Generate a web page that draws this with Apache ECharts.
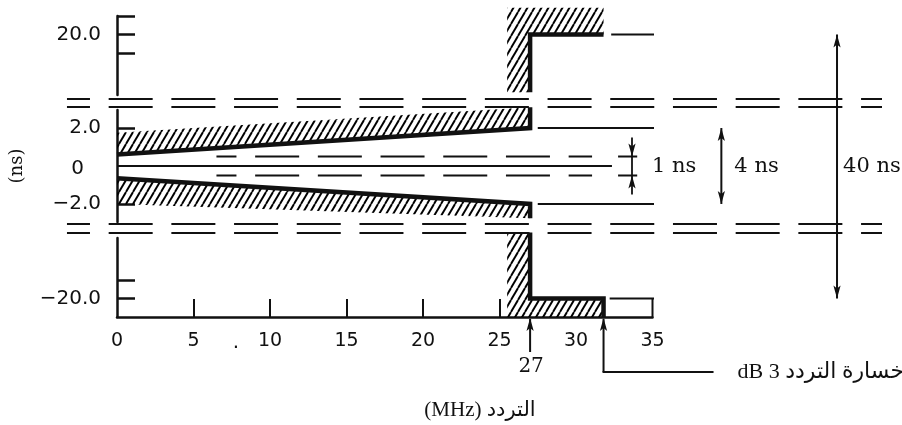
<!DOCTYPE html>
<html>
<head>
<meta charset="utf-8">
<script src="https://cdn.jsdelivr.net/npm/echarts@6/dist/echarts.min.js"></script>
<style>
  html, body { margin: 0; padding: 0; background: #fff; }
  #chart { width: 902px; height: 425px; }
</style>
</head>
<body>
<div id="chart"></div>
<script>
// ---- frequency axis (MHz) ----
const freqTicks = [5, 10, 15, 20, 25];
const freqLabels = [0, 5, 10, 15, 20, 25, 30, 35];
const freqRange = [0, 35];
const cutoffFreq = 27;      // end of the delay mask
const lossFreq = 31.8;      // 3 dB loss frequency
const wallStart = 25.5;     // inner edge of the hatched cut-off wall

// ---- group delay axis, three sections (ns) ----
const topRange = [13.5, 22];
const innerRange = [-2.95, 2.95];
const bottomRange = [-22, -13.5];
const topTicks = [18, 20, 22];
const topLabels = [20];
const innerTicks = [-2, 2];
const innerLabels = [-2, 0, 2];
const bottomTicks = [-20, -18];
const bottomLabels = [-20];

// ---- inner mask: values at f = 0 and f = 27 MHz (ns) ----
const maskFreqs = [0, 27];
const upperLimit = [0.6, 2.0];
const upperHatchEdge = [1.75, 3.1];
const lowerLimit = [-0.65, -2.0];
const lowerHatchEdge = [-2.0, -2.75];

// ---- outer mask (ns) ----
const outerLimit = 20;
const topWallEnds = [13.8, 22.9];      // hatched wall, upper section
const bottomWallEnds = [-12.9, -22];   // hatched wall, lower section

// ---- reference lines ----
const centreLine = [0, 32.35];          // 0 ns line, from / to (MHz)
const halfNs = 0.5;                     // +-0.5 ns dashed lines
const halfNsSpan = [6.5, 31.05];
const span4 = { level: 2, from: 27.5, to: 40.3, arrowAt: 39.5, text: '4 ns' };
const span1 = { level: 0.5, from: 32.75, to: 34.0, arrowAt: 33.66, reach: 1.5, text: '1 ns' };
const span40 = { level: 20, topFrom: 32.3, topTo: 48.6, bottomFrom: 32.2, bottomTo: 47.7, arrowAt: 47.06, text: '40 ns' };
const breakSpan = [-3.27, 50];

const xTitle = '(MHz) التردد';
const yTitle = '(ns)';
const lossText = 'dB 3 خسارة التردد';

const INK = '#111';
const chart = echarts.init(document.getElementById('chart'), null, { renderer: 'canvas' });

// diagonal hatching used for the forbidden regions
const hatch = (function () {
  const w = 7, h = 12;
  const c = document.createElement('canvas');
  c.width = w; c.height = h;
  const g = c.getContext('2d');
  g.strokeStyle = '#000';
  g.lineWidth = 1.9;
  [-w, 0, w].forEach(function (dx) {
    g.beginPath(); g.moveTo(dx, h); g.lineTo(dx + w, 0); g.stroke();
  });
  return { image: c, repeat: 'repeat' };
})();

function hatchArea(gridIdx, pts) {
  return {
    type: 'custom', xAxisIndex: gridIdx, yAxisIndex: gridIdx, data: pts,
    encode: { x: 0, y: 1 }, silent: true, z: 1, clip: false,
    renderItem: function (params, api) {
      if (params.dataIndex !== 0) return null;
      const p = pts.map(function (_, i) { return api.coord([api.value(0, i), api.value(1, i)]); });
      return { type: 'polygon', shape: { points: p }, style: { fill: hatch, stroke: null } };
    }
  };
}

function path(gridIdx, pts, width, extra) {
  return Object.assign({
    type: 'line', xAxisIndex: gridIdx, yAxisIndex: gridIdx, data: pts,
    symbol: 'none', silent: true, clip: false, z: 3,
    lineStyle: Object.assign({ color: INK, width: width, join: 'miter', cap: 'butt' }, (extra && extra.ls) || {})
  }, extra && extra.opt || {});
}

function nsLabel(v) {
  if (v === 0) return '{z|0}';
  const s = Math.abs(v).toFixed(1);
  return v < 0 ? '\u2212' + s : s;
}

const tickText = { fontFamily: 'DejaVu Sans', fontSize: 20, color: INK };

function yAxisFor(gridIdx, range, ticks, labels, extra) {
  return Object.assign({
    gridIndex: gridIdx, type: 'value', min: range[0], max: range[1],
    axisLine: { show: true, lineStyle: { color: INK, width: 2.5 } },
    axisTick: { show: true, inside: true, length: 18, customValues: ticks, lineStyle: { color: INK, width: 2.5 } },
    axisLabel: Object.assign({ customValues: labels, formatter: nsLabel, margin: 16,
      rich: { z: { fontFamily: 'DejaVu Sans', fontSize: 20, color: INK, padding: [6, 17, 0, 0] } } }, tickText),
    splitLine: { show: false }
  }, extra || {});
}

function lerpPts(xs, ys) { return xs.map(function (x, i) { return [x, ys[i]]; }); }

const series = [
  // upper section: cut-off wall and +20 ns limit
  hatchArea(0, [[wallStart, topWallEnds[0]], [cutoffFreq, topWallEnds[0]], [cutoffFreq, outerLimit],
                [lossFreq, outerLimit], [lossFreq, topWallEnds[1]], [wallStart, topWallEnds[1]]]),
  path(0, [[cutoffFreq, topWallEnds[0]], [cutoffFreq, outerLimit], [lossFreq, outerLimit]], 4.5),
  path(0, [[span40.topFrom, span40.level], [span40.topTo, span40.level]], 2),

  // inner section: sloping mask limits
  hatchArea(1, lerpPts(maskFreqs, upperLimit).concat(lerpPts(maskFreqs, upperHatchEdge).reverse())),
  hatchArea(1, lerpPts(maskFreqs, lowerLimit).concat(lerpPts(maskFreqs, lowerHatchEdge).reverse())),
  path(1, lerpPts(maskFreqs, upperLimit).concat([[maskFreqs[1], upperHatchEdge[1]]]), 4.5),
  path(1, lerpPts(maskFreqs, lowerLimit).concat([[maskFreqs[1], lowerHatchEdge[1]]]), 4.5),
  path(1, [[centreLine[0], 0], [centreLine[1], 0]], 2),
  path(1, [[halfNsSpan[0], halfNs], [halfNsSpan[1], halfNs]], 2, { ls: { type: [44, 18.7], dashOffset: 24 } }),
  path(1, [[halfNsSpan[0], -halfNs], [halfNsSpan[1], -halfNs]], 2, { ls: { type: [44, 18.7], dashOffset: 24 } }),
  path(1, [[span4.from, span4.level], [span4.to, span4.level]], 2),
  path(1, [[span4.from, -span4.level], [span4.to, -span4.level]], 2),
  path(1, [[span1.from, span1.level], [span1.to, span1.level]], 2),
  path(1, [[span1.from, -span1.level], [span1.to, -span1.level]], 2),

  // lower section: cut-off wall and -20 ns limit
  hatchArea(2, [[wallStart, bottomWallEnds[0]], [cutoffFreq, bottomWallEnds[0]], [cutoffFreq, -outerLimit],
                [lossFreq, -outerLimit], [lossFreq, bottomWallEnds[1]], [wallStart, bottomWallEnds[1]]]),
  path(2, [[cutoffFreq, bottomWallEnds[0]], [cutoffFreq, -outerLimit], [lossFreq, -outerLimit], [lossFreq, bottomRange[0]]], 4.5),
  path(2, [[freqRange[1], bottomRange[0]], [freqRange[1], -span40.level]], 2),
  path(2, [[span40.bottomFrom, -span40.level], [span40.bottomTo, -span40.level]], 2)
];

const gridBase = { left: 117, width: 535.5, containLabel: false, outerBoundsMode: 'none' };
const option = {
  animation: false,
  backgroundColor: '#fff',
  grid: [
    Object.assign({ top: 16, height: 79 }, gridBase),
    Object.assign({ top: 110, height: 112 }, gridBase),
    Object.assign({ top: 238, height: 79 }, gridBase)
  ],
  xAxis: [
    { gridIndex: 0, type: 'value', min: freqRange[0], max: freqRange[1], show: false },
    { gridIndex: 1, type: 'value', min: freqRange[0], max: freqRange[1], show: false },
    { gridIndex: 2, type: 'value', min: freqRange[0], max: freqRange[1], position: 'bottom',
      axisLine: { show: true, onZero: false, lineStyle: { color: INK, width: 2.5 } },
      axisTick: { show: true, inside: true, length: 18, customValues: freqTicks, lineStyle: { color: INK, width: 2 } },
      axisLabel: Object.assign({ customValues: freqLabels, margin: 15 }, tickText, { fontSize: 19 }),
      splitLine: { show: false } }
  ],
  yAxis: [
    yAxisFor(0, topRange, topTicks, topLabels),
    yAxisFor(1, innerRange, innerTicks, innerLabels, {
      name: yTitle, nameLocation: 'middle', nameGap: 91, nameRotate: 90,
      nameTextStyle: { fontFamily: 'DejaVu Serif', fontSize: 18, color: INK }
    }),
    yAxisFor(2, bottomRange, bottomTicks, bottomLabels)
  ],
  series: series
};
chart.setOption(option);

// ---- annotations placed through the grid scales ----
const P = function (gi, x, y) { return chart.convertToPixel({ gridIndex: gi }, [x, y]); };
const g = [];
function seg(x1, y1, x2, y2, w, extra) {
  g.push({ type: 'line', z: 10, silent: true, shape: { x1: x1, y1: y1, x2: x2, y2: y2 },
    style: Object.assign({ stroke: INK, lineWidth: w }, extra || {}) });
}
function head(x, y, dir) { // dir -1: tip points up, +1: tip points down
  const L = 13, W = 3.6;
  g.push({ type: 'polygon', z: 11, silent: true,
    shape: { points: [[x, y], [x - W, y - dir * L], [x, y - dir * (L - 3)], [x + W, y - dir * L]] },
    style: { fill: INK } });
}
function label(text, x, y, font, size, align) {
  g.push({ type: 'text', z: 12, silent: true, x: x, y: y,
    style: { text: text, fontFamily: font, fontSize: size, fill: INK, align: align || 'left', verticalAlign: 'middle' } });
}

// axis break markers
const topGap = [P(0, 0, topRange[0])[1], P(1, 0, innerRange[1])[1]];
const lowGap = [P(1, 0, innerRange[0])[1], P(2, 0, bottomRange[1])[1]];
const bx0 = P(1, breakSpan[0], 0)[0], bx1 = P(1, breakSpan[1], 0)[0];
[topGap[0] + 4, topGap[1] - 3, lowGap[0] + 2, lowGap[1] - 5].forEach(function (y) {
  seg(bx0, y, bx1, y, 2, { lineDash: [44, 18.7], lineDashOffset: 21 });
});

// 40 ns span
const a40 = P(0, span40.arrowAt, span40.level), b40 = P(2, span40.arrowAt, -span40.level);
seg(a40[0], a40[1], b40[0], b40[1], 2);
head(a40[0], a40[1], -1); head(b40[0], b40[1], 1);
label(span40.text, a40[0] + 6, P(1, 0, 0)[1] + 1, 'DejaVu Serif', 21);

// 4 ns span
const a4 = P(1, span4.arrowAt, span4.level), b4 = P(1, span4.arrowAt, -span4.level);
seg(a4[0], a4[1], b4[0], b4[1], 2);
head(a4[0], a4[1], -1); head(b4[0], b4[1], 1);
label(span4.text, a4[0] + 13, P(1, 0, 0)[1] + 1, 'DejaVu Serif', 21);

// 1 ns span, arrows pointing in from outside
const a1 = P(1, span1.arrowAt, span1.reach), t1 = P(1, span1.arrowAt, span1.level);
const t2 = P(1, span1.arrowAt, -span1.level), b1 = P(1, span1.arrowAt, -span1.reach);
seg(a1[0], a1[1], b1[0], b1[1], 1.8);
head(t1[0], t1[1], 1); head(t2[0], t2[1], -1);
label(span1.text, a1[0] + 20, P(1, 0, 0)[1] + 1, 'DejaVu Serif', 21);

// cut-off frequency marker
const c27 = P(2, cutoffFreq, bottomRange[0]);
seg(c27[0], c27[1] + 2, c27[0], c27[1] + 35, 2);
head(c27[0], c27[1] + 1, -1);
label(String(cutoffFreq), c27[0] + 1, c27[1] + 50, 'DejaVu Serif', 20, 'center');

// 3 dB loss marker
const c3 = P(2, lossFreq, bottomRange[0]);
seg(c3[0], c3[1] + 2, c3[0], c3[1] + 55, 2);
seg(c3[0] - 1, c3[1] + 55, c3[0] + 110, c3[1] + 55, 2);
head(c3[0], c3[1] + 1, -1);
label(lossText, c3[0] + 134, c3[1] + 55, 'Liberation Serif, DejaVu Sans', 22);

// axis title and the stray point printed beside the 10 MHz label
label(xTitle, 480, 410, 'Liberation Serif, DejaVu Sans', 21, 'center');
label('.', 236, 343, 'DejaVu Sans', 20, 'center');

chart.setOption({ graphic: g });
</script>
</body>
</html>
